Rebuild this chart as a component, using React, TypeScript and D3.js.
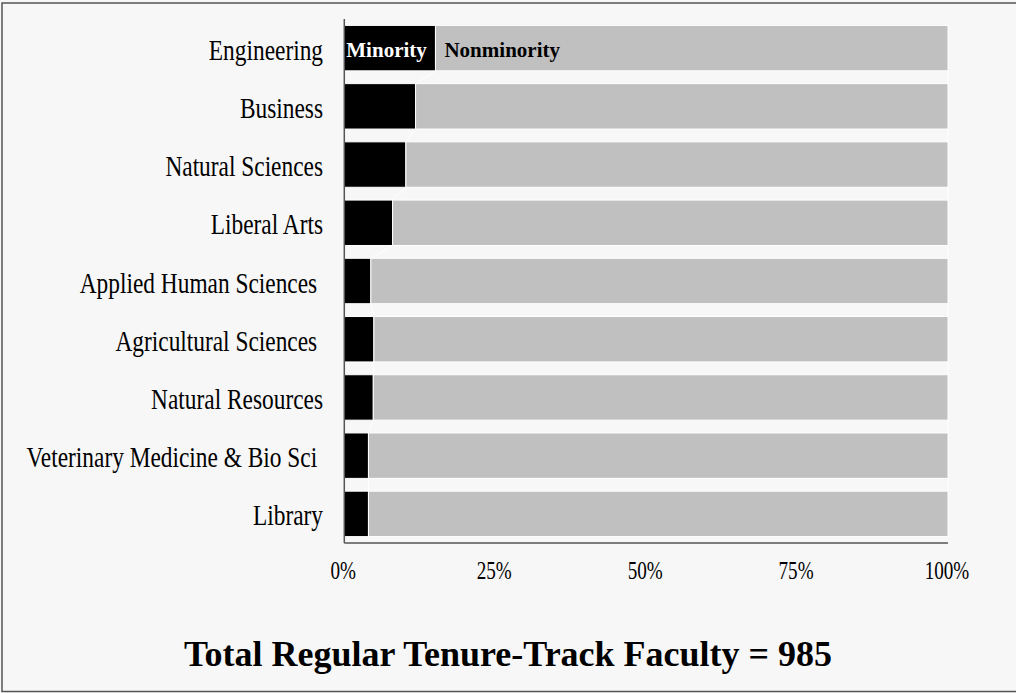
import React from "react";
import * as d3 from "d3";

const categories = [
  "Engineering",
  "Business",
  "Natural Sciences",
  "Liberal Arts",
  "Applied Human Sciences ",
  "Agricultural Sciences ",
  "Natural Resources",
  "Veterinary Medicine & Bio Sci ",
  "Library",
];
const minority = [15.1, 11.8, 10.2, 8.0, 4.4, 4.9, 4.8, 4.0, 4.0];
const nonminority = [84.9, 88.2, 89.8, 92.0, 95.6, 95.1, 95.2, 96.0, 96.0];
const tickValues = [0, 25, 50, 75, 100];
const tickLabels = ["0%", "25%", "50%", "75%", "100%"];
const seriesNames = ["Minority", "Nonminority"];
const title = "Total Regular Tenure-Track Faculty = 985";

const W = 1016;
const H = 693;
const M = { left: 344.3, right: 68, top: 19, bottom: 150 };
const FONT = "'Liberation Serif', 'Times New Roman', serif";

export default function App() {
  const x = d3.scaleLinear().domain([0, 100]).range([M.left, W - M.right]);
  const y = d3
    .scaleBand<string>()
    .domain(categories)
    .range([M.top, H - M.bottom])
    .paddingInner(0.22)
    .paddingOuter(0.11);
  const bw = y.bandwidth();

  const rows = categories.map((c, i) => ({ c, m: minority[i], n: nonminority[i] }));
  const stack = d3.stack<any>().keys(["m", "n"]);
  const series = stack(rows as any);
  const colors = ["#000000", "#c0c0c0"];

  const lines: { x1: number; y1: number; x2: number; y2: number }[] = [];
  series.forEach((s) => {
    for (let i = 0; i < s.length - 1; i++) {
      const a = s[i];
      const b = s[i + 1];
      lines.push({
        x1: x(a[1]),
        y1: (y(categories[i]) as number) + bw,
        x2: x(b[1]),
        y2: y(categories[i + 1]) as number,
      });
    }
  });

  const axisY = H - M.bottom;
  const first = categories[0];

  return (
    <svg
      width={W}
      height={H}
      style={{ position: "fixed", left: 0, top: 0, background: "#f7f7f7" }}
    >
      <rect x={0} y={0} width={W} height={H} fill="#f7f7f7" />
      <rect
        x={2}
        y={3}
        width={W + 10}
        height={H - 4.5}
        fill="none"
        stroke="#555"
        strokeWidth={1.5}
      />
      {series.map((s, si) => (
        <g key={si}>
          {s.map((d, i) => (
            <rect
              key={i}
              x={x(d[0])}
              y={y(categories[i]) as number}
              width={x(d[1]) - x(d[0])}
              height={bw}
              fill={colors[si]}
              stroke="#ffffff"
              strokeWidth={1}
            />
          ))}
        </g>
      ))}
      {lines.map((l, i) => (
        <line key={i} {...l} stroke="#ffffff" strokeWidth={1} />
      ))}
      <line x1={x(0)} x2={x(0)} y1={M.top} y2={axisY} stroke="#555" strokeWidth={1.5} />
      <line x1={x(0)} x2={x(100)} y1={axisY} y2={axisY} stroke="#555" strokeWidth={1.5} />
      {categories.map((c, i) => (
        <text
          key={c}
          transform={`translate(323,${(y(c) as number) + bw / 2 + 11.5}) scale(0.82,1)`}
          textAnchor="end"
          fontFamily={FONT}
          fontSize={28.5}
          fill="#000"
          style={{ whiteSpace: "pre" }}
        >
          {c}
        </text>
      ))}
      {tickValues.map((t, i) => (
        <text
          key={t}
          transform={`translate(${x(t) - 1},579) scale(0.78,1)`}
          textAnchor="middle"
          fontFamily={FONT}
          fontSize={24.5}
          fill="#000"
        >
          {tickLabels[i]}
        </text>
      ))}
      <text
        x={x(0) + 2}
        y={(y(first) as number) + bw / 2 + 8.5}
        fontFamily={FONT}
        fontWeight="bold"
        fontSize={21}
        fill="#fff"
      >
        {seriesNames[0]}
      </text>
      <text
        x={x(minority[0]) + 9}
        y={(y(first) as number) + bw / 2 + 8.5}
        fontFamily={FONT}
        fontWeight="bold"
        fontSize={21}
        fill="#000"
      >
        {seriesNames[1]}
      </text>
      <text
        x={W / 2}
        y={666}
        textAnchor="middle"
        fontFamily={FONT}
        fontWeight="bold"
        fontSize={36}
        fill="#000"
      >
        {title}
      </text>
    </svg>
  );
}
